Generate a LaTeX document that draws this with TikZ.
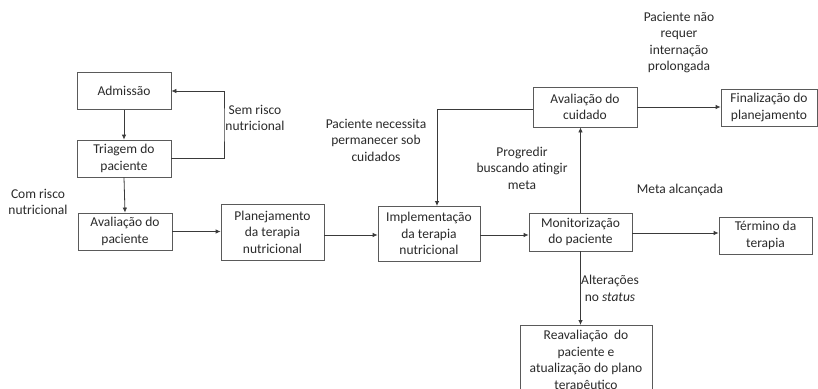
\documentclass[tikz,border=0pt]{standalone}
\usepackage{fontspec}
\setmainfont{Carlito}
\usetikzlibrary{arrows.meta}
\definecolor{ln}{HTML}{3A3A3A}
\definecolor{bx}{HTML}{5A5A5A}
\definecolor{tx}{HTML}{2A2A2A}
\tikzset{
  box/.style={draw=bx, line width=0.8pt, fill=white, align=center, text=tx,
    font=\fontsize{13.5}{16.5}\selectfont, inner sep=2pt},
  lbl/.style={align=center, text=tx, font=\fontsize{13.5}{16.5}\selectfont, inner sep=0pt},
  conn/.style={draw=ln, line width=0.8pt},
  arr/.style={conn, -{Latex[length=5pt,width=4.5pt]}}
}
\begin{document}
\begin{tikzpicture}[x=1pt,y=-1pt]
\clip (0,0) rectangle (818,388);
\fill[white] (0,0) rectangle (818,388);
% boxes
\node[box, minimum width=94pt, minimum height=37pt] (adm) at (124,91) {Admissão};
\node[box, minimum width=94pt, minimum height=37pt] (tri) at (124,158.5) {Triagem do\\paciente};
\node[box, minimum width=94pt, minimum height=37pt] (avp) at (125,231.5) {Avaliação do\\paciente};
\node[box, minimum width=103pt, minimum height=56pt] (pla) at (272.5,232) {Planejamento\\da terapia\\nutricional};
\node[box, minimum width=102pt, minimum height=55pt] (imp) at (429,233.5) {Implementação\\da terapia\\nutricional};
\node[box, minimum width=103pt, minimum height=38pt] (mon) at (580.5,232) {Monitorização\\do paciente};
\node[box, minimum width=93pt, minimum height=37pt] (ter) at (765.5,235.5) {Término da\\terapia};
\node[box, minimum width=104pt, minimum height=40pt] (avc) at (585,107) {Avaliação do\\cuidado};
\node[box, minimum width=96pt, minimum height=37pt] (fin) at (769,107.5) {Finalização do\\planejamento};
\node[box, anchor=north, minimum width=132pt, inner ysep=5pt] (rea) at (586,325) {Reavaliação~ do\\paciente e\\atualização do plano\\terapêutico};
% labels
\node[lbl] (l1) at (255,118) {Sem risco\\nutricional};
\node[lbl] (l2) at (38,202) {Com risco\\nutricional};
\node[lbl] (l3) at (376,140) {Paciente necessita\\permanecer sob\\cuidados};
\node[lbl] (l4) at (522,168) {Progredir\\buscando atingir\\meta};
\node[lbl] (l5) at (679,42.5) {Paciente não\\requer\\internação\\prolongada};
\node[lbl] (l6) at (680,190) {Meta alcançada};
\node[lbl] (l7) at (610,288.5) {Alterações\\no \textit{status}};
% connectors
\coordinate (loopc) at (224,125);
\coordinate (impin) at (437,206);
\draw[arr] (adm.south) -- (tri.north);
\draw[arr] (tri.south) -- (avp.north);
\draw[arr] (tri.east) -| (loopc) |- (adm.east);
\draw[arr] (avp.east) -- (avp.east -| pla.west);
\draw[arr] ([yshift=-3pt]pla.east) -- ([yshift=-3pt]pla.east -| imp.west);
\draw[arr] ([yshift=-1.5pt]imp.east) -- ([yshift=-1.5pt]imp.east -| mon.west);
\draw[arr] ([yshift=-1pt]mon.east) -- ([yshift=-1pt]mon.east -| ter.west);
\draw[arr] (mon.north) -- (mon.north |- avc.south);
\draw[arr] ([yshift=-2pt]avc.west) -| (impin);
\draw[arr] (avc.east) -- (avc.east -| fin.west);
\draw[arr] (mon.south) -- (mon.south |- rea.north);
\end{tikzpicture}
\end{document}
